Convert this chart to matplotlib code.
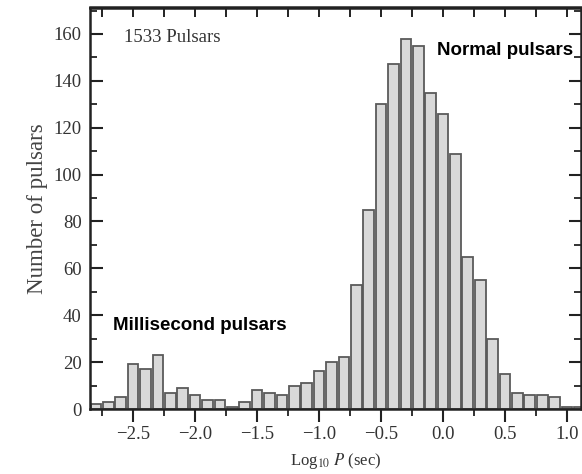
import matplotlib
matplotlib.use("Agg")
import matplotlib.pyplot as plt
from matplotlib.ticker import MultipleLocator

plt.rcParams["mathtext.fontset"] = "stix"

# Bin centres (log10 P, 0.1 dex bins) and counts
bin_centers = [-2.8, -2.7, -2.6, -2.5, -2.4, -2.3, -2.2, -2.1, -2.0, -1.9,
               -1.8, -1.7, -1.6, -1.5, -1.4, -1.3, -1.2, -1.1, -1.0, -0.9,
               -0.8, -0.7, -0.6, -0.5, -0.4, -0.3, -0.2, -0.1, 0.0, 0.1,
               0.2, 0.3, 0.4, 0.5, 0.6, 0.7, 0.8, 0.9, 1.0, 1.1]
counts = [2, 3, 5, 19, 17, 23, 7, 9, 6, 4,
          4, 1, 3, 8, 7, 6, 10, 11, 16, 20,
          22, 53, 85, 130, 147, 158, 155, 135, 126, 109,
          65, 55, 30, 15, 7, 6, 6, 5, 1, 1]

x_ticks = [-2.5, -2.0, -1.5, -1.0, -0.5, 0.0, 0.5, 1.0]
x_ticklabels = ["\u22122.5", "\u22122.0", "\u22121.5", "\u22121.0", "\u22120.5", "0.0", "0.5", "1.0"]
y_ticks = [0, 20, 40, 60, 80, 100, 120, 140, 160]

serif = ["Liberation Serif", "DejaVu Serif"]
sans = ["Liberation Sans", "DejaVu Sans"]

fig = plt.figure(figsize=(5.82, 4.74), dpi=100)
ax = fig.add_axes([90/582, 65/474, 491/582, 401.5/474])

ax.bar(bin_centers, counts, width=0.086, color="#d9d9d9", edgecolor="#5a5a5a",
       linewidth=1.3, zorder=2)

ax.set_xlim(-2.848, 1.113)
ax.set_ylim(0, 171.3)

ax.set_xticks(x_ticks)
ax.set_xticklabels(x_ticklabels, fontfamily=serif, fontsize=13.5, color="#333333")
ax.set_yticks(y_ticks)
ax.set_yticklabels([str(v) for v in y_ticks], fontfamily=serif, fontsize=13.5, color="#333333")
ax.xaxis.set_minor_locator(MultipleLocator(0.25))
ax.yaxis.set_minor_locator(MultipleLocator(10))

ax.tick_params(axis="x", which="both", bottom=True, top=False, direction="out",
               colors="#222222", labelcolor="#333333")
ax.tick_params(axis="x", which="major", length=9, width=1.5, pad=3)
ax.tick_params(axis="x", which="minor", length=5, width=1.3)
ax.tick_params(axis="y", which="both", left=True, right=True, direction="in",
               colors="#222222", labelcolor="#333333")
ax.tick_params(axis="y", which="major", length=9, width=1.5, pad=6)
ax.tick_params(axis="y", which="minor", length=5, width=1.3)

# top ticks (inward) via secondary axis
sec = ax.secondary_xaxis("top")
sec.set_xticks(x_ticks)
sec.xaxis.set_minor_locator(MultipleLocator(0.25))
sec.tick_params(axis="x", which="both", direction="in", length=7, width=1.4,
                labeltop=False, colors="#222222")

for s in ax.spines.values():
    s.set_linewidth(1.8)
    s.set_color("#222222")
sec.spines["top"].set_linewidth(1.8)
sec.spines["top"].set_color("#222222")

ax.set_ylabel("Number of pulsars", fontfamily=serif, fontsize=16.5, color="#444444", labelpad=4)
ax.set_xlabel(r"Log$_{10}$ $\it{P}$ (sec)", fontfamily=serif, fontsize=12, color="#333333", labelpad=6)

ax.text(-2.57, 158.5, "1533 Pulsars", fontfamily=serif, fontsize=13.5, color="#333333",
        ha="left", va="center")
ax.text(-0.052, 153, "Normal pulsars", fontfamily=sans, fontsize=13.5, fontweight="bold",
        color="black", ha="left", va="center")
ax.text(-2.66, 35.5, "Millisecond pulsars", fontfamily=sans, fontsize=13.5, fontweight="bold",
        color="black", ha="left", va="center")

fig.savefig("out.png", dpi=100)
